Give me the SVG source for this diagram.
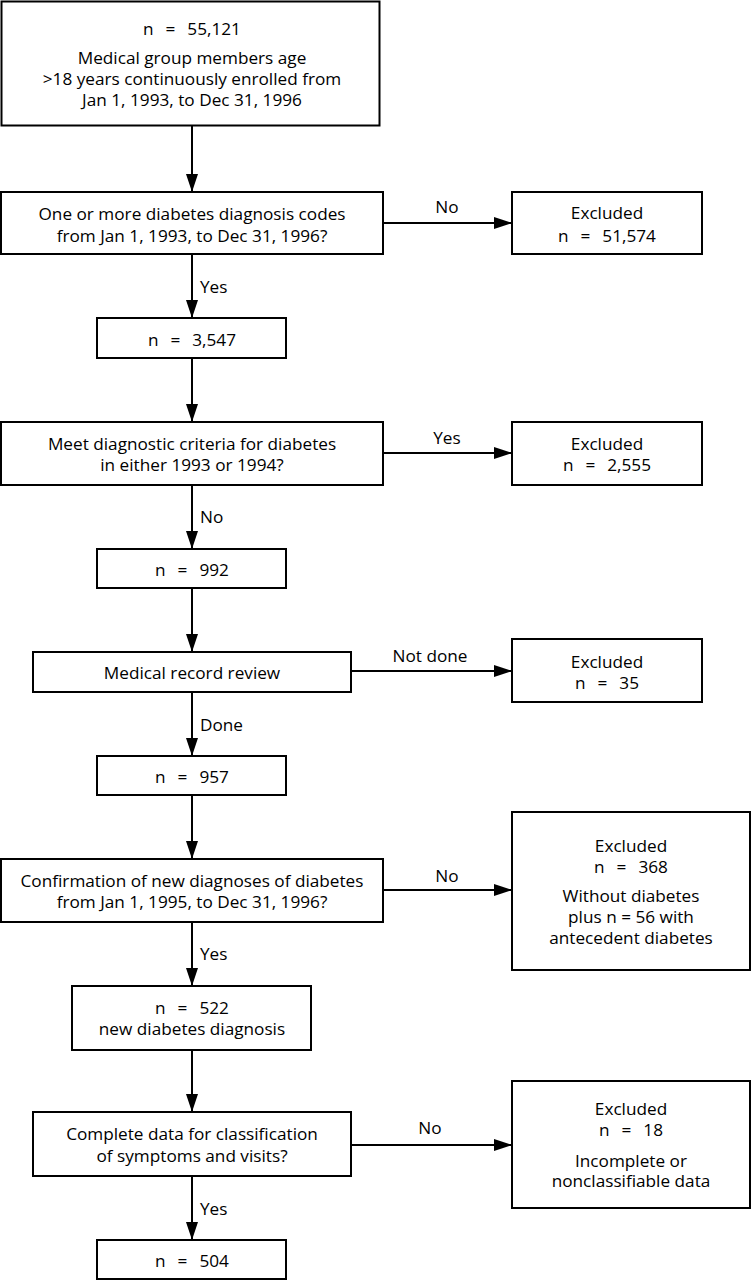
<svg xmlns="http://www.w3.org/2000/svg" width="751" height="1280" viewBox="0 0 751 1280">
<style>
rect{fill:#fff;stroke:#000;stroke-width:2}
text{font-family:"Open Sans","Noto Sans",sans-serif;font-size:17.2px;fill:#000;text-anchor:middle}
.c line{stroke:#000;stroke-width:2;marker-end:url(#ah)}
.l{text-anchor:start}
.n{word-spacing:7.5px}
</style>
<defs>
<marker id="ah" markerUnits="userSpaceOnUse" markerWidth="18" markerHeight="12" refX="18" refY="6" orient="auto">
<path d="M0,0 L18,6 L0,12 z" fill="#000"/>
</marker>
</defs>
<rect x="0" y="0" width="751" height="1280" style="stroke:none"/>
<g class="c" id="connectors">
<line x1="192" y1="126" x2="192" y2="192"/>
<line x1="383" y1="223" x2="512" y2="223"/>
<line x1="192" y1="254" x2="192" y2="318"/>
<line x1="192" y1="358" x2="192" y2="422"/>
<line x1="383" y1="453" x2="512" y2="453"/>
<line x1="192" y1="485" x2="192" y2="549"/>
<line x1="192" y1="588" x2="192" y2="652"/>
<line x1="351" y1="671" x2="512" y2="671"/>
<line x1="192" y1="692" x2="192" y2="756"/>
<line x1="192" y1="795" x2="192" y2="859"/>
<line x1="383" y1="890" x2="512" y2="890"/>
<line x1="192" y1="922" x2="192" y2="986"/>
<line x1="192" y1="1050" x2="192" y2="1112"/>
<line x1="351" y1="1145" x2="512" y2="1145"/>
<line x1="192" y1="1176" x2="192" y2="1240"/>
<text x="447" y="213">No</text>
<text x="200" y="293" class="l">Yes</text>
<text x="447" y="444">Yes</text>
<text x="200" y="523" class="l">No</text>
<text x="430" y="662">Not done</text>
<text x="200" y="731" class="l">Done</text>
<text x="447" y="882">No</text>
<text x="200" y="960" class="l">Yes</text>
<text x="430" y="1134">No</text>
<text x="200" y="1215" class="l">Yes</text>
</g>
<g id="start">
<rect x="1.5" y="1.5" width="378" height="124"/>
<text x="192" y="35" class="n">n = 55,121</text>
<text x="192" y="64">Medical group members age</text>
<text x="192" y="85">&gt;18 years continuously enrolled from</text>
<text x="192" y="106">Jan 1, 1993, to Dec 31, 1996</text>
</g>
<g id="q1">
<rect x="1" y="192" width="382" height="62"/>
<text x="192" y="220">One or more diabetes diagnosis codes</text>
<text x="192" y="242">from Jan 1, 1993, to Dec 31, 1996?</text>
</g>
<g id="ex1">
<rect x="512" y="192" width="190" height="62"/>
<text x="607" y="219">Excluded</text>
<text x="607" y="242" class="n">n = 51,574</text>
</g>
<g id="n3547">
<rect x="97" y="318" width="189" height="40"/>
<text x="192" y="346" class="n">n = 3,547</text>
</g>
<g id="q2">
<rect x="1" y="422" width="382" height="63"/>
<text x="192" y="450">Meet diagnostic criteria for diabetes</text>
<text x="192" y="471">in either 1993 or 1994?</text>
</g>
<g id="ex2">
<rect x="512" y="422" width="190" height="63"/>
<text x="607" y="450">Excluded</text>
<text x="607" y="471" class="n">n = 2,555</text>
</g>
<g id="n992">
<rect x="97" y="549" width="189" height="39"/>
<text x="192" y="576" class="n">n = 992</text>
</g>
<g id="review">
<rect x="33" y="652" width="318" height="40"/>
<text x="192" y="679">Medical record review</text>
</g>
<g id="ex3">
<rect x="512" y="639" width="190" height="63"/>
<text x="607" y="668">Excluded</text>
<text x="607" y="689" class="n">n = 35</text>
</g>
<g id="n957">
<rect x="97" y="756" width="189" height="39"/>
<text x="192" y="783" class="n">n = 957</text>
</g>
<g id="q3">
<rect x="1" y="859" width="382" height="63"/>
<text x="192" y="887">Confirmation of new diagnoses of diabetes</text>
<text x="192" y="908">from Jan 1, 1995, to Dec 31, 1996?</text>
</g>
<g id="ex4">
<rect x="512" y="812" width="238" height="158"/>
<text x="631" y="852">Excluded</text>
<text x="631" y="873" class="n">n = 368</text>
<text x="631" y="902">Without diabetes</text>
<text x="631" y="923">plus n = 56 with</text>
<text x="631" y="944">antecedent diabetes</text>
</g>
<g id="n522">
<rect x="72" y="986" width="239" height="64"/>
<text x="192" y="1014" class="n">n = 522</text>
<text x="192" y="1035">new diabetes diagnosis</text>
</g>
<g id="q4">
<rect x="33" y="1112" width="318" height="64"/>
<text x="192" y="1140">Complete data for classification</text>
<text x="192" y="1162">of symptoms and visits?</text>
</g>
<g id="ex5">
<rect x="512" y="1081" width="238" height="127"/>
<text x="631" y="1115">Excluded</text>
<text x="631" y="1136" class="n">n = 18</text>
<text x="631" y="1167">Incomplete or</text>
<text x="631" y="1187">nonclassifiable data</text>
</g>
<g id="n504">
<rect x="97" y="1240" width="189" height="39"/>
<text x="192" y="1267" class="n">n = 504</text>
</g>
</svg>
